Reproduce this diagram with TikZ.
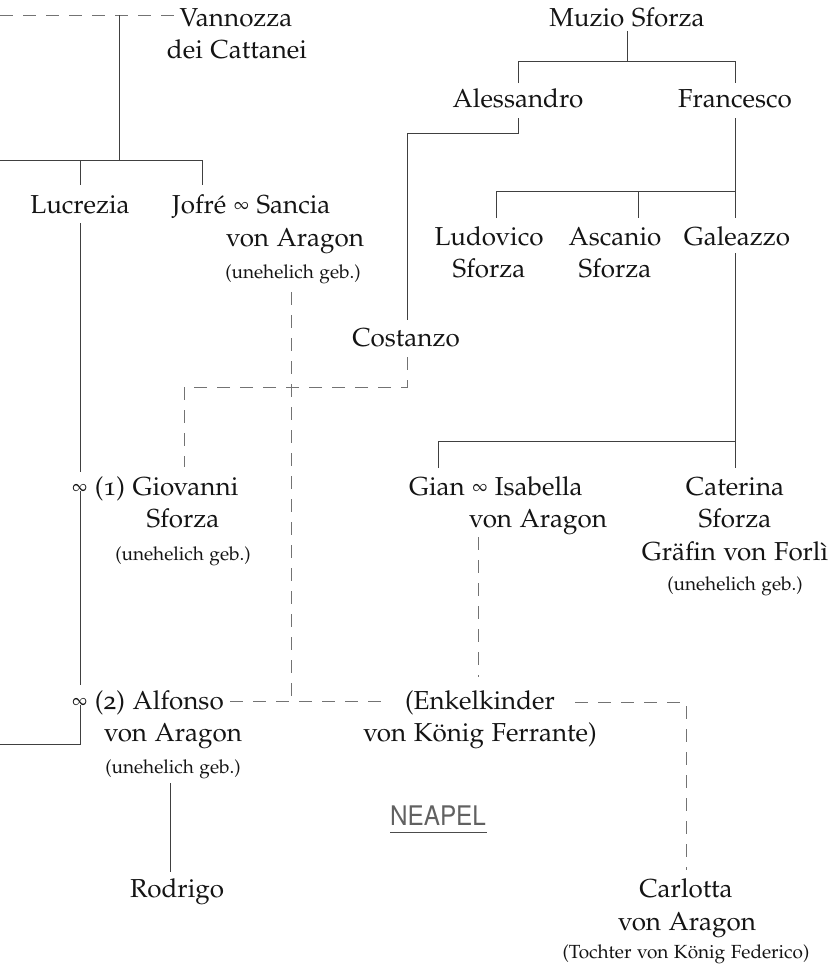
\documentclass[tikz,border=0pt]{standalone}
\usepackage[T1]{fontenc}
\usepackage[osf]{mathpazo}
\newcommand\myinf{\raisebox{2.6pt}{\scalebox{0.66}{$\infty$}}}
\begin{document}
\begin{tikzpicture}[x=1pt,y=-1pt,
  nm/.style={inner sep=0pt, anchor=base, text=black!92, font=\fontsize{26}{33}\selectfont},
  sm/.style={inner sep=0pt, anchor=base, text=black!92, font=\fontsize{19}{24}\selectfont},
  solidline/.style={draw=black!75, line width=0.9pt},
  dashline/.style={draw=black!55, line width=0.9pt, dash pattern=on 13pt off 10pt}]
\useasboundingbox (0,0) rectangle (833,967);
% ---------- text nodes ----------
\node[nm] (vann1) at (236,26) {Vannozza};
\node[nm] (vann2) at (237,58) {dei Cattanei};
\node[nm] (luc) at (80,213) {Lucrezia};
\node[nm,anchor=base west] (jof1) at (172,213) {Jofr\'e \myinf{} Sancia};
\node[nm] (jof2) at (295,246) {von Aragon};
\node[sm] (jof3) at (293,278) {(unehelich geb.)};
\node[nm] (muzio) at (627,26) {Muzio Sforza};
\node[nm] (aless) at (518,107) {Alessandro};
\node[nm] (franc) at (735,107) {Francesco};
\node[nm] (ludo1) at (489,245) {Ludovico};
\node[nm] (ludo2) at (489,277) {Sforza};
\node[nm] (asc1) at (615,245) {Ascanio};
\node[nm] (asc2) at (615,277) {Sforza};
\node[nm] (gal) at (737,245) {Galeazzo};
\node[nm] (cost) at (406,346) {Costanzo};
\node[nm,anchor=base west] (gio1) at (72,495) {\myinf{} (1) Giovanni};
\node[nm] (gio2) at (183,527) {Sforza};
\node[sm] (gio3) at (183,560) {(unehelich geb.)};
\node[nm,anchor=base west] (gian1) at (409,495) {Gian \myinf{} Isabella};
\node[nm] (gian2) at (538,527) {von Aragon};
\node[nm] (cat1) at (735,495) {Caterina};
\node[nm] (cat2) at (735,527) {Sforza};
\node[nm] (cat3) at (735,560) {Gr\"afin von Forl\`i};
\node[sm] (cat4) at (735,590) {(unehelich geb.)};
\node[nm,anchor=base west] (alf1) at (72,709) {\myinf{} (2) Alfonso};
\node[nm] (alf2) at (173,741) {von Aragon};
\node[sm] (alf3) at (173,773) {(unehelich geb.)};
\node[nm] (rod) at (177,897) {Rodrigo};
\node[nm] (enk1) at (480,709) {(Enkelkinder};
\node[nm] (enk2) at (480,741) {von K\"onig Ferrante)};
\node[inner sep=0pt, anchor=base, text=black!62, font=\fontfamily{phv}\fontseries{m}\fontsize{27}{32}\selectfont] (neapel) at (438,825) {\scalebox{0.9}[1]{NEAPEL}};
\node[nm] (car1) at (686,897) {Carlotta};
\node[nm] (car2) at (687,930) {von Aragon};
\node[sm] (car3) at (686,958) {(Tochter von K\"onig Federico)};
% ---------- junction coordinates ----------
\coordinate (vtop) at (119,15);
\coordinate (vleft) at (0,15);
\coordinate (vbar) at (119,160);
% ---------- Borgia (left) ----------
\draw[dashline] (vleft) -- (175,15);
\draw[solidline] (vtop) -- (vbar);
\draw[solidline] (0,160) -- (202,160);
\draw[solidline] (80,160) -- (80,185);
\draw[solidline] (202,160) -- (202,185);
\draw[solidline] (80,223) -- (80,472);
\draw[solidline] (80,491) -- (80,685);
\draw[solidline] (80,705) -- (80,744) -- (0,744);
\draw[solidline] (170,783) -- (170,872);
% Jofre dashed to Alfonso/Enkelkinder
\draw[dashline] (291,292) -- (291,701);
\draw[dashline] (230,701) -- (388,701);
% ---------- Sforza ----------
\draw[solidline] (627,31) -- (627,61);
\draw[solidline] (518,83) -- (518,61) -- (735,61) -- (735,83);
\draw[solidline] (518,118) -- (518,133) -- (407,133) -- (407,320);
\draw[solidline] (735,118) -- (735,218);
\draw[solidline] (496,218) -- (496,191) -- (735,191);
\draw[solidline] (638,191) -- (638,218);
\draw[solidline] (735,253) -- (735,468);
\draw[solidline] (438,468) -- (438,441) -- (735,441);
% Costanzo dashed to Giovanni
\draw[dashline] (407,357) -- (407,387) -- (184,387) -- (184,467);
% Gian dashed to Enkelkinder
\draw[dashline] (478,537) -- (478,677);
% Enkelkinder dashed to Carlotta
\draw[dashline] (575,702) -- (686,702) -- (686,870);
% Neapel underline
\draw[draw=black!70, line width=0.8pt] (390,832) -- (487,832);
\end{tikzpicture}
\end{document}
